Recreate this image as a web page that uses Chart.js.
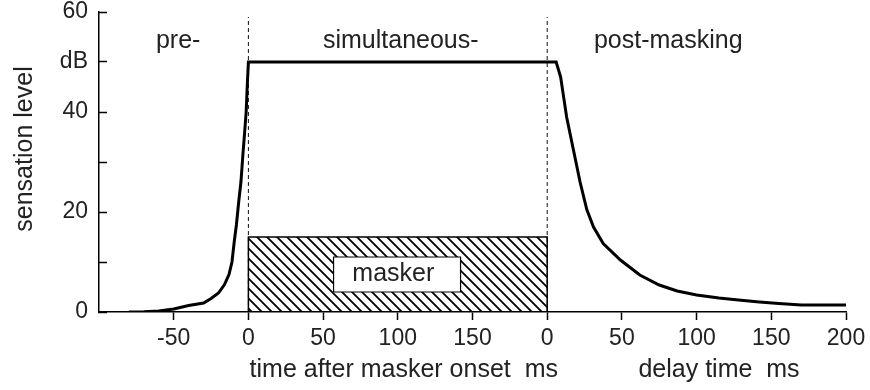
<!DOCTYPE html>
<html lang="en">
<head>
  <meta charset="UTF-8">
  <title>Masking</title>
  <script src="https://cdn.jsdelivr.net/npm/chart.js"></script>
  <style>
    body {
      margin: 0;
      background: #fff;
    }
    #masking {
      display: block;
    }
  </style>
</head>
<body>
  <canvas id="masking" width="870" height="390"></canvas>

  <script>
    // pre-masking: time after masker onset (ms) -> sensation level (dB)
    const preTime  = [-80, -70, -60, -50, -40, -30, -25, -20, -16, -13, -11, -9.5, -8, -6.5, -5, -3.8, -2.5, -1.5, -0.8, 0];
    const preLevel = [0, 0.05, 0.2, 0.6, 1.3, 1.8, 2.7, 3.8, 5.5, 7.5, 10, 14, 17.5, 22, 26, 31, 36, 40, 45, 50];

    // simultaneous masking plateau
    const maskerDuration = 200;
    const simLevel = 50;

    // post-masking: delay time after masker end (ms) -> sensation level (dB)
    const postDelay = [0, 6, 9, 13, 17.5, 22, 26.5, 31, 37.5, 49, 62, 75, 87, 100, 115, 128, 142, 155, 170, 200];
    const postLevel = [50, 50, 47, 39, 32.5, 26, 20.5, 17, 13.7, 10.4, 7.4, 5.4, 4.2, 3.4, 2.8, 2.4, 2.0, 1.7, 1.4, 1.4];

    // masker (hatched block) and its label box
    const maskerLevel = 15;
    const maskerBoxX = [57, 142];
    const maskerBoxY = [4, 11];

    // axis ticks (x is one continuous axis: onset time, then delay time after 200 ms)
    const xTickValues = [-50, 0, 50, 100, 150, 200, 250, 300, 350, 400];
    const xTickLabels = ['-50', '0', '50', '100', '150', '0', '50', '100', '150', '200'];
    const yTickValues = [0, 10, 20, 30, 40, 50, 60];
    const yTickLabels = ['0', '', '20', '', '40', 'dB', '60'];

    // text labels
    const regionLabels = ['pre-', 'simultaneous-', 'post-masking'];
    const regionX = [-47, 102, 281];
    const xTitles = ['time after masker onset  ms', 'delay time  ms'];
    const xTitleX = [104, 315];

    const FONT = '"Liberation Sans", Arial, sans-serif';
    const INK = '#222';

    // build the curve in combined x units
    const curve = [];
    preTime.forEach((t, i) => curve.push({x: t, y: preLevel[i]}));
    postDelay.forEach((d, i) => curve.push({x: maskerDuration + d, y: postLevel[i]}));

    // hatch pattern for the masker
    function hatchPattern() {
      const c = document.createElement('canvas');
      c.width = 10;
      c.height = 10;
      const g = c.getContext('2d');
      g.strokeStyle = '#000';
      g.lineWidth = 1.8;
      g.beginPath();
      g.moveTo(-2, -2); g.lineTo(12, 12);
      g.moveTo(-2, 8); g.lineTo(2, 12);
      g.moveTo(8, -2); g.lineTo(12, 2);
      g.stroke();
      return g.createPattern(c, 'repeat');
    }

    const annotate = {
      id: 'annotate',
      afterDatasetsDraw(chart) {
        const {ctx, chartArea} = chart;
        const x = chart.scales.x, y = chart.scales.y;
        ctx.save();
        ctx.fillStyle = INK;
        ctx.font = '25px ' + FONT;
        ctx.textAlign = 'center';

        ctx.textBaseline = 'alphabetic';
        regionLabels.forEach((t, i) => {
          ctx.fillText(t, x.getPixelForValue(regionX[i]), chartArea.top + 36);
        });
        xTitles.forEach((t, i) => {
          ctx.fillText(t, x.getPixelForValue(xTitleX[i]), chartArea.bottom + 65);
        });

        ctx.textBaseline = 'middle';
        ctx.fillText('masker', x.getPixelForValue(97), y.getPixelForValue(7.6));

        ctx.translate(32, y.getPixelForValue(32.6));
        ctx.rotate(-Math.PI / 2);
        ctx.textBaseline = 'alphabetic';
        ctx.fillText('sensation level', 0, 0);
        ctx.restore();
      }
    };

    new Chart(document.getElementById('masking'), {
      type: 'scatter',
      data: {
        datasets: [
          {
            // sensation level curve
            data: curve,
            showLine: true,
            borderColor: '#000',
            borderWidth: 3,
            pointRadius: 0,
            order: 0
          },
          {
            // masker onset
            data: [{x: 0, y: 0}, {x: 0, y: 59}],
            showLine: true,
            borderColor: '#111',
            borderWidth: 1,
            borderDash: [4, 3],
            pointRadius: 0,
            order: 3
          },
          {
            // masker end
            data: [{x: maskerDuration, y: 0}, {x: maskerDuration, y: 59}],
            showLine: true,
            borderColor: '#111',
            borderWidth: 1,
            borderDash: [4, 3],
            pointRadius: 0,
            order: 3
          },
          {
            // hatched masker block
            data: [{x: 0, y: 0}, {x: 0, y: maskerLevel}, {x: maskerDuration, y: maskerLevel}, {x: maskerDuration, y: 0}],
            showLine: true,
            borderColor: '#000',
            borderWidth: 1.5,
            backgroundColor: hatchPattern(),
            fill: 'origin',
            pointRadius: 0,
            order: 2
          },
          {
            // "masker" label box
            data: [
              {x: maskerBoxX[0], y: maskerBoxY[0]}, {x: maskerBoxX[0], y: maskerBoxY[1]},
              {x: maskerBoxX[1], y: maskerBoxY[1]}, {x: maskerBoxX[1], y: maskerBoxY[0]},
              {x: maskerBoxX[0], y: maskerBoxY[0]}
            ],
            showLine: true,
            borderColor: '#000',
            borderWidth: 1.2,
            backgroundColor: '#fff',
            fill: 'shape',
            pointRadius: 0,
            order: 1
          }
        ]
      },
      options: {
        responsive: false,
        animation: false,
        layout: {
          padding: {top: 12, right: 24, left: 0, bottom: 0}
        },
        plugins: {
          legend: {display: false},
          tooltip: {enabled: false}
        },
        scales: {
          x: {
            type: 'linear',
            min: -100,
            max: 400,
            afterFit: scale => {
              scale.height = 78;
              scale.paddingLeft = 0;
              scale.paddingRight = 0;
            },
            afterBuildTicks: scale => {
              scale.ticks = [-100].concat(xTickValues).map(v => ({value: v}));
            },
            ticks: {
              autoSkip: false,
              maxRotation: 0,
              padding: 5,
              color: INK,
              font: {family: FONT, size: 23},
              callback: value => {
                const i = xTickValues.indexOf(value);
                return i >= 0 ? xTickLabels[i] : '';
              }
            },
            grid: {
              drawOnChartArea: false,
              tickLength: 8,
              tickWidth: 1.5,
              tickColor: ctx => (ctx.tick && ctx.tick.value === -100) ? 'rgba(0,0,0,0)' : '#000'
            },
            border: {color: '#000', width: 1.5}
          },
          y: {
            type: 'linear',
            min: 0,
            max: 60,
            afterFit: scale => {
              scale.width = 99;
              scale.paddingTop = 0;
              scale.paddingBottom = 0;
            },
            afterBuildTicks: scale => {
              scale.ticks = yTickValues.map(v => ({value: v}));
            },
            ticks: {
              autoSkip: false,
              padding: 19,
              color: INK,
              font: {family: FONT, size: 23},
              callback: value => {
                const i = yTickValues.indexOf(value);
                return i >= 0 ? yTickLabels[i] : '';
              }
            },
            grid: {
              drawOnChartArea: false,
              tickLength: -8,
              tickWidth: 1.5,
              tickColor: '#000'
            },
            border: {color: '#000', width: 1.5}
          }
        }
      },
      plugins: [annotate]
    });
  </script>
</body>
</html>
